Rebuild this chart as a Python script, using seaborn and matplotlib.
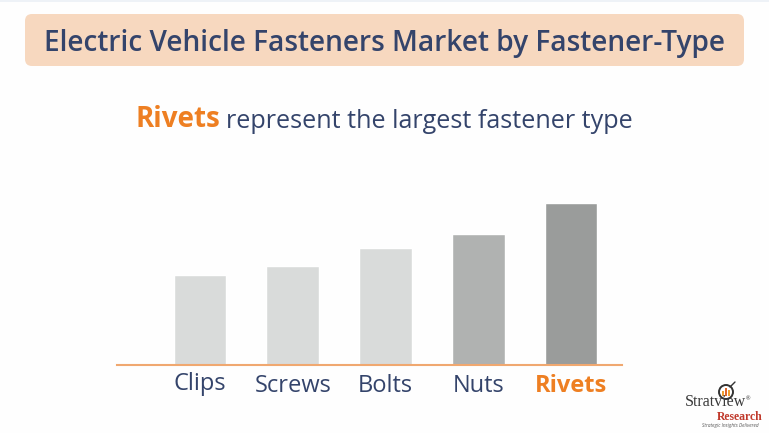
import matplotlib
matplotlib.use('Agg')
import matplotlib.pyplot as plt
import matplotlib.transforms as mtrans
from matplotlib.patches import FancyBboxPatch, Circle, Rectangle
import pandas as pd
import seaborn as sns

W, H = 769, 433
NAVY = '#34446b'
ORANGE = '#ee7f22'

categories = ['Clips', 'Screws', 'Bolts', 'Nuts', 'Rivets']
values = [89.5, 98.5, 116.5, 130.5, 161.5]
bar_colors = ['#d9dbda', '#d9dbda', '#d9dbda', '#b0b2b1', '#9a9c9b']

sns.set_theme(style='white')
plt.rcParams['font.family'] = ['Open Sans', 'DejaVu Sans']

df = pd.DataFrame({'fastener': categories, 'size': values})

fig = plt.figure(figsize=(W / 100, H / 100), dpi=100, facecolor='#fefefe')

# overlay in pixel coordinates for the banner, headings and logo
bg = fig.add_axes([0, 0, 1, 1])
bg.set_xlim(0, W)
bg.set_ylim(H, 0)
bg.axis('off')
bg.add_patch(Rectangle((0, 0), W, 1.5, color='#eef2f7', lw=0))
bg.add_patch(FancyBboxPatch((25, 14), 719, 52, boxstyle='round,pad=0,rounding_size=7',
                            fc='#f7d8bf', ec='none', lw=0))
bg.text(384.5, 43.5, 'Electric Vehicle Fasteners Market by Fastener-Type',
        ha='center', va='center', fontsize=20.2, color=NAVY, fontweight='semibold')
bg.text(135, 119.5, 'Rivets', ha='left', va='center', fontsize=20, color=ORANGE, fontweight='bold')
bg.text(226, 121, 'represent the largest fastener type', ha='left', va='center',
        fontsize=18.1, color=NAVY, fontweight='medium')

# logo
bg.text(715, 402, 'Stratview', ha='center', va='center', fontsize=11.5,
        family='Liberation Serif', color='#3a3a3a')
bg.text(740, 417, 'Research', ha='center', va='center', fontsize=8.5, fontweight='bold',
        family='Liberation Serif', color='#c0392b')
bg.text(759, 425.5, 'Strategic Insights Delivered', ha='right', va='center', fontsize=3.4,
        style='italic', color='#555555')
bg.text(748, 399, '®', ha='center', va='center', fontsize=4, color='#333333')
bg.add_patch(Circle((726, 392), 7, fc='white', ec='#333333', lw=1.4))
bg.add_patch(Rectangle((722, 391), 2, 5, color='#f0a030', lw=0))
bg.add_patch(Rectangle((725, 388), 2, 8, color='#e0662a', lw=0))
bg.add_patch(Rectangle((728, 390), 2, 6, color='#f0a030', lw=0))
bg.plot([730, 735], [387, 382], color='#333333', lw=1)

# bar area: baseline at y=364.5, spans x=117..622
ax = fig.add_axes([117 / W, (H - 364.5) / H, 505 / W, 190 / H])
ax.patch.set_alpha(0)
sns.barplot(data=df, x='fastener', y='size', hue='fastener', palette=bar_colors,
            order=categories, hue_order=categories, legend=False, width=0.57,
            saturation=1, ax=ax)
ax.set_xlim(-0.895, 4.55)
ax.set_ylim(0, 190)
ax.set_xlabel('')
ax.set_ylabel('')
ax.set_yticks([])
sns.despine(ax=ax, left=True)
ax.spines['bottom'].set_color('#f0a870')
ax.spines['bottom'].set_linewidth(1.5)
ax.tick_params(axis='x', length=0, pad=7)
ax.set_xticks(range(len(categories)))
ax.set_xticklabels(categories, fontsize=17, color=NAVY)

labels = ax.get_xticklabels()
labels[-1].set_color(ORANGE)
labels[-1].set_fontweight('bold')
# Clips sits slightly higher than the others
labels[0].set_transform(labels[0].get_transform() +
                        mtrans.ScaledTranslation(0, 2 / 100, fig.dpi_scale_trans))

fig.savefig('out.png', dpi=100, facecolor=fig.get_facecolor())
